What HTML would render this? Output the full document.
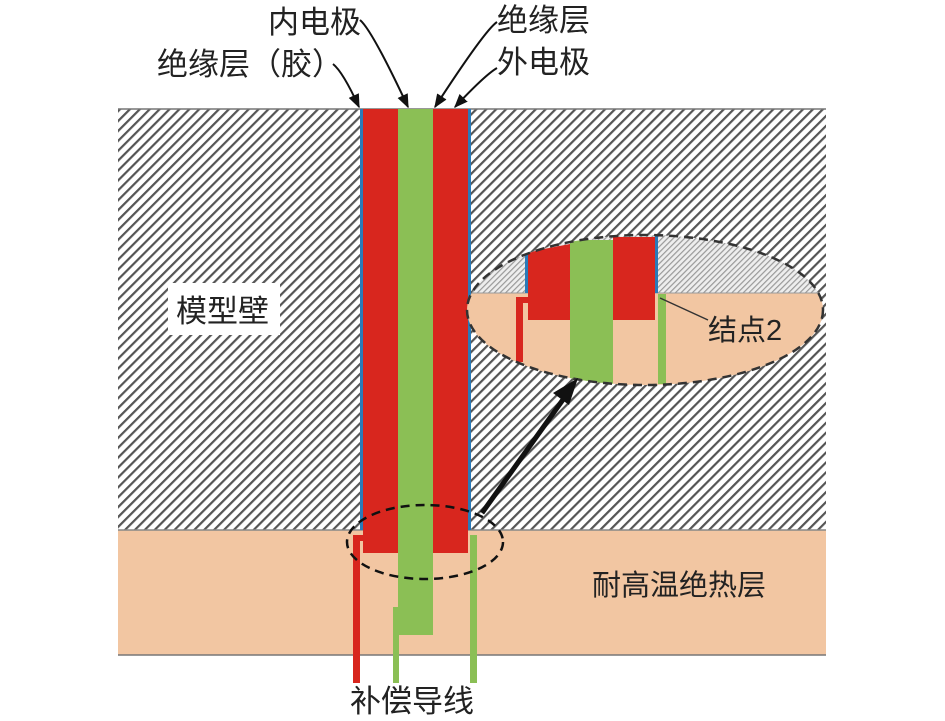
<!DOCTYPE html>
<html><head><meta charset="utf-8"><style>
html,body{margin:0;padding:0;background:#fff;width:945px;height:721px;overflow:hidden}
text{font-family:"Liberation Sans","Noto Sans CJK SC",sans-serif;fill:#222}
</style></head><body>
<svg width="945" height="721" viewBox="0 0 945 721" xmlns="http://www.w3.org/2000/svg">
<defs>
<pattern id="h" width="7" height="7" patternUnits="userSpaceOnUse" patternTransform="rotate(45)">
<rect width="7" height="7" fill="#fff"/><rect width="2.2" height="7" fill="#555"/></pattern>
<pattern id="h2" width="4" height="4" patternUnits="userSpaceOnUse" patternTransform="rotate(45)">
<rect width="4" height="4" fill="#eee"/><rect width="1.2" height="4" fill="#999"/></pattern>
<clipPath id="ec"><ellipse cx="645" cy="310" rx="178" ry="75"/></clipPath>
<marker id="a" viewBox="0 0 10 10" refX="9" refY="5" markerWidth="7" markerHeight="7" orient="auto"><path d="M0,1 L10,5 L0,9z" fill="#111"/></marker>
</defs>
<rect x="118" y="109" width="708" height="421" fill="url(#h)"/>
<line x1="118" y1="109" x2="826" y2="109" stroke="#777" stroke-width="1.5"/>
<rect x="118" y="530" width="708" height="125" fill="#f2c6a2"/>
<line x1="118" y1="530" x2="826" y2="530" stroke="#888" stroke-width="1.5"/>
<line x1="118" y1="655" x2="826" y2="655" stroke="#777" stroke-width="1.5"/>
<rect x="360" y="109" width="3" height="421" fill="#2a7ab8"/>
<rect x="468" y="109" width="3" height="421" fill="#2a7ab8"/>
<rect x="363" y="109" width="35" height="444" fill="#d8261e"/>
<rect x="433" y="109" width="35" height="444" fill="#d8261e"/>
<path d="M398,109 H433 V635 H399 V683 H393 V607 H398Z" fill="#8bbf55"/>
<path d="M353,535 H365 V541 H360 V683 H353Z" fill="#d8261e"/>
<rect x="470" y="535" width="7" height="148" fill="#8bbf55"/>
<ellipse cx="425" cy="542" rx="78" ry="37" fill="none" stroke="#111" stroke-width="2.5" stroke-dasharray="9,6"/>
<g clip-path="url(#ec)">
<rect x="460" y="230" width="370" height="63" fill="url(#h2)"/>
<rect x="460" y="293" width="370" height="100" fill="#f2c6a2"/>
<line x1="460" y1="293" x2="830" y2="293" stroke="#999"/>
<rect x="525" y="252" width="3" height="41" fill="#2a7ab8"/>
<rect x="655" y="236" width="3" height="57" fill="#2a7ab8"/>
<path d="M528,252 L570,244 V320 H528Z" fill="#d8261e"/>
<rect x="570" y="240" width="43" height="145" fill="#8bbf55"/>
<rect x="613" y="237" width="42" height="83" fill="#d8261e"/>
<path d="M516,297 H528 V303 H523 V362 H516Z" fill="#d8261e"/>
<rect x="658" y="294" width="8" height="90" fill="#8bbf55"/>
</g>
<ellipse cx="645" cy="310" rx="178" ry="75" fill="none" stroke="#333" stroke-width="2.5" stroke-dasharray="9,6"/>
<line x1="660" y1="298" x2="708" y2="320" stroke="#333" stroke-width="1.5"/>
<text x="708" y="340" font-size="29">结点2</text>
<line x1="482" y1="513" x2="572" y2="387" stroke="#111" stroke-width="5"/>
<path d="M578,378 L553,393 L569,405Z" fill="#111"/>
<rect x="168" y="283" width="112" height="52" fill="#fff"/>
<text x="176" y="322" font-size="31">模型壁</text>
<text x="592" y="595" font-size="29">耐高温绝热层</text>
<text x="350" y="712" font-size="31">补偿导线</text>
<text x="268" y="33" font-size="31">内电极</text>
<text x="497" y="31" font-size="31">绝缘层</text>
<text x="497" y="73" font-size="31">外电极</text>
<text x="157" y="75" font-size="31">绝缘层（胶）</text>
<g stroke="#111" stroke-width="2" fill="none" marker-end="url(#a)">
<path d="M360,20 Q372,30 408,107"/>
<path d="M497,22 Q485,30 435,107"/>
<path d="M497,68 Q485,75 455,107"/>
<path d="M333,64 Q343,72 359,107"/>
</g>
</svg>
</body></html>
